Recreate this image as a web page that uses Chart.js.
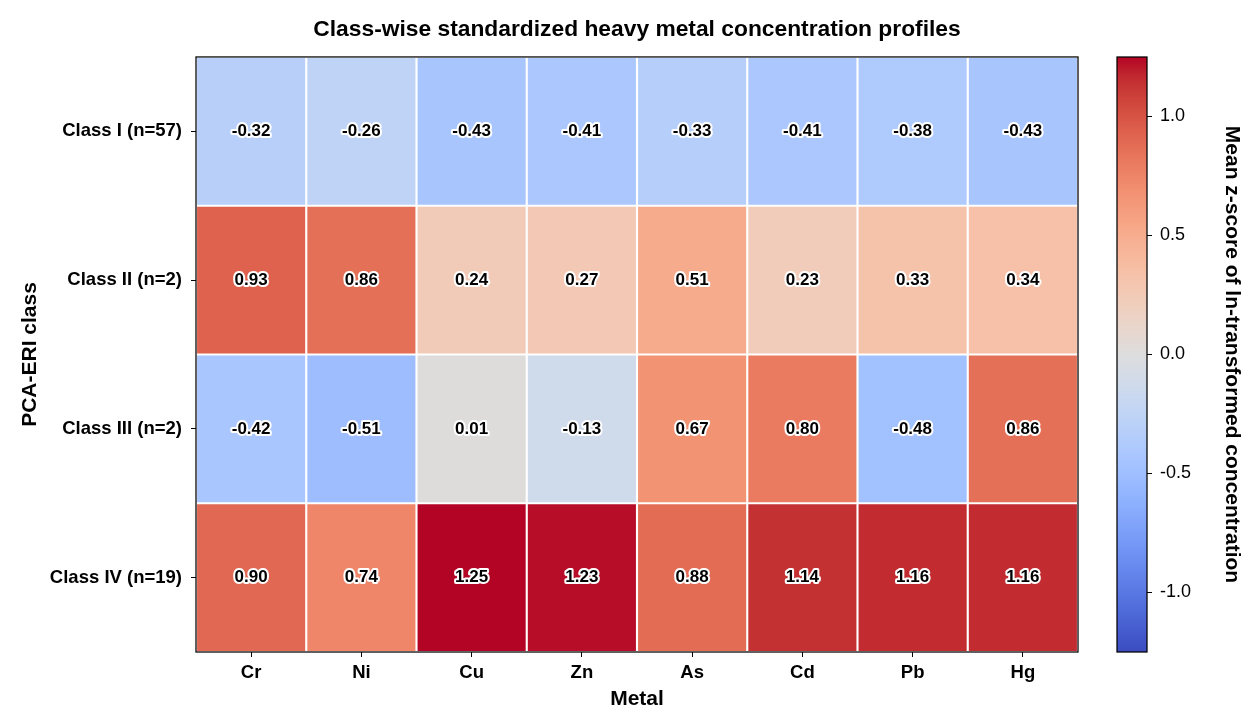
<!DOCTYPE html>
<html>
<head>
<meta charset="utf-8">
<script src="https://cdn.jsdelivr.net/npm/chart.js@4.4.1/dist/chart.umd.min.js"></script>
<style>
  html, body { margin: 0; padding: 0; background: #fff; }
  #wrap { position: relative; width: 1260px; height: 728px; }
  #heat { position: absolute; left: 0; top: 0; }
  #bar { position: absolute; left: 1090px; top: 0; }
</style>
</head>
<body>
<div id="wrap">
  <canvas id="heat" width="1260" height="728"></canvas>
  <canvas id="bar" width="170" height="728"></canvas>
</div>
<script>
const metals = ['Cr', 'Ni', 'Cu', 'Zn', 'As', 'Cd', 'Pb', 'Hg']
const classes = ['Class I (n=57)', 'Class II (n=2)', 'Class III (n=2)', 'Class IV (n=19)']

const classI = [-0.32, -0.26, -0.43, -0.41, -0.33, -0.41, -0.38, -0.43]
const classII = [0.93, 0.86, 0.24, 0.27, 0.51, 0.23, 0.33, 0.34]
const classIII = [-0.42, -0.51, 0.01, -0.13, 0.67, 0.80, -0.48, 0.86]
const classIV = [0.90, 0.74, 1.25, 1.23, 0.88, 1.14, 1.16, 1.16]
const rows = [classI, classII, classIII, classIV]

const colorMin = -1.25
const colorMax = 1.25
const colorTicks = [-1.0, -0.5, 0.0, 0.5, 1.0]

// coolwarm, 33 samples
const coolwarm = [
  [59, 76, 192], [68, 90, 204], [77, 104, 215], [87, 117, 225], [98, 130, 234], [108, 142, 241],
  [119, 154, 247], [130, 165, 251], [141, 176, 254], [152, 185, 255], [163, 194, 255], [174, 201, 253],
  [184, 208, 249], [194, 213, 244], [204, 217, 238], [213, 219, 230], [221, 221, 221], [229, 216, 209],
  [236, 211, 197], [241, 204, 185], [245, 196, 173], [247, 187, 160], [247, 177, 148], [247, 166, 135],
  [244, 154, 123], [241, 141, 111], [236, 127, 99], [229, 112, 88], [222, 96, 77], [213, 80, 66],
  [203, 62, 56], [192, 40, 47], [180, 4, 38]
]

const cmap = t => {
  t = Math.min(1, Math.max(0, t))
  const pos = t * (coolwarm.length - 1)
  const i = Math.min(coolwarm.length - 2, Math.floor(pos))
  const f = pos - i
  const c = coolwarm[i].map((v, k) => Math.round(v + (coolwarm[i + 1][k] - v) * f))
  return `rgb(${c[0]},${c[1]},${c[2]})`
}
const colorFor = v => cmap((v - colorMin) / (colorMax - colorMin))

const FONT = "'Liberation Sans', Arial, sans-serif"
Chart.defaults.font.family = FONT
Chart.defaults.color = '#000'

const frame = {
  id: 'frame',
  afterDatasetsDraw (chart) {
    const { ctx, chartArea: a } = chart
    ctx.save()
    ctx.strokeStyle = '#000'
    ctx.lineWidth = 1.25
    ctx.strokeRect(a.left, a.top, a.right - a.left, a.bottom - a.top)
    ctx.restore()
  }
}

const cellLabels = {
  id: 'cellLabels',
  afterDraw (chart) {
    const { ctx, scales: { x, y } } = chart
    ctx.save()
    ctx.font = `bold 17px ${FONT}`
    ctx.textAlign = 'center'
    ctx.textBaseline = 'middle'
    ctx.lineJoin = 'round'
    rows.forEach((row, r) => {
      row.forEach((v, c) => {
        const px = x.getPixelForValue(c)
        const py = y.getPixelForValue(r)
        const text = v.toFixed(2)
        ctx.strokeStyle = '#fff'
        ctx.lineWidth = 4
        ctx.strokeText(text, px, py)
        ctx.fillStyle = '#000'
        ctx.fillText(text, px, py)
      })
    })
    ctx.restore()
  }
}

new Chart(document.getElementById('heat'), {
  type: 'bar',
  data: {
    labels: metals,
    datasets: rows.map((row, r) => ({
      label: classes[r],
      data: row.map(() => [r - 0.5, r + 0.5]),
      backgroundColor: row.map(colorFor),
      borderColor: '#fff',
      borderWidth: 1.4,
      borderSkipped: false,
      grouped: false,
      barPercentage: 1,
      categoryPercentage: 1
    }))
  },
  options: {
    responsive: false,
    animation: false,
    devicePixelRatio: 1,
    layout: { padding: { left: 10, right: 182, top: 0, bottom: 8 } },
    plugins: {
      legend: { display: false },
      tooltip: { enabled: false },
      title: {
        display: true,
        fullSize: false,
        text: 'Class-wise standardized heavy metal concentration profiles',
        font: { size: 22.8, weight: 'bold' },
        color: '#000',
        padding: { top: 16, bottom: 13.6 }
      }
    },
    scales: {
      x: {
        type: 'category',
        afterFit: s => { s.height = 68 },
        border: { display: false },
        grid: { display: true, drawOnChartArea: false, drawTicks: true, tickLength: 5, color: '#000', offset: false },
        ticks: { font: { size: 18.5, weight: 'bold' }, color: '#000', padding: 5, maxRotation: 0 },
        title: { display: true, text: 'Metal', font: { size: 21, weight: 'bold' }, color: '#000', padding: { top: 4, bottom: 8.5 } }
      },
      y: {
        type: 'linear',
        min: -0.5,
        max: 3.5,
        reverse: true,
        afterFit: s => { s.width = 186 },
        afterBuildTicks: s => { s.ticks = classes.map((_, i) => ({ value: i })) },
        border: { display: false },
        grid: { display: true, drawOnChartArea: false, drawTicks: true, tickLength: 5, color: '#000' },
        ticks: { font: { size: 18.5, weight: 'bold' }, color: '#000', padding: 9, callback: v => classes[v] },
        title: { display: true, text: 'PCA-ERI class', font: { size: 21, weight: 'bold' }, color: '#000', padding: { top: 7.4, bottom: 4 } }
      }
    }
  },
  plugins: [frame, cellLabels]
})

let gradient = null
const barFill = ctx => {
  const { chart } = ctx
  const a = chart.chartArea
  if (!a) return 'rgba(0,0,0,0)'
  if (!gradient) {
    const y = chart.scales.y
    gradient = chart.ctx.createLinearGradient(0, y.getPixelForValue(colorMin), 0, y.getPixelForValue(colorMax))
    coolwarm.forEach((c, i) => gradient.addColorStop(i / (coolwarm.length - 1), `rgb(${c[0]},${c[1]},${c[2]})`))
  }
  return gradient
}

new Chart(document.getElementById('bar'), {
  type: 'bar',
  data: {
    labels: [''],
    datasets: [{
      data: [[colorMin, colorMax]],
      backgroundColor: barFill,
      borderWidth: 0,
      barPercentage: 1,
      categoryPercentage: 1
    }]
  },
  options: {
    responsive: false,
    animation: false,
    devicePixelRatio: 1,
    layout: { padding: { left: 27, right: 0, top: 57, bottom: 76 } },
    plugins: { legend: { display: false }, tooltip: { enabled: false } },
    scales: {
      x: { display: false },
      y: {
        type: 'linear',
        position: 'right',
        min: colorMin,
        max: colorMax,
        afterFit: s => { s.width = 113 },
        afterBuildTicks: s => { s.ticks = colorTicks.map(v => ({ value: v })) },
        border: { display: false },
        grid: { display: true, drawOnChartArea: false, drawTicks: true, tickLength: 5, color: '#000' },
        ticks: { font: { size: 18 }, color: '#000', padding: 8, callback: v => v.toFixed(1) },
        title: {
          display: true,
          text: 'Mean z-score of ln-transformed concentration',
          font: { size: 21, weight: 'bold' },
          color: '#000',
          padding: { top: 15.4, bottom: 4 }
        }
      }
    }
  },
  plugins: [frame]
})
</script>
</body>
</html>
